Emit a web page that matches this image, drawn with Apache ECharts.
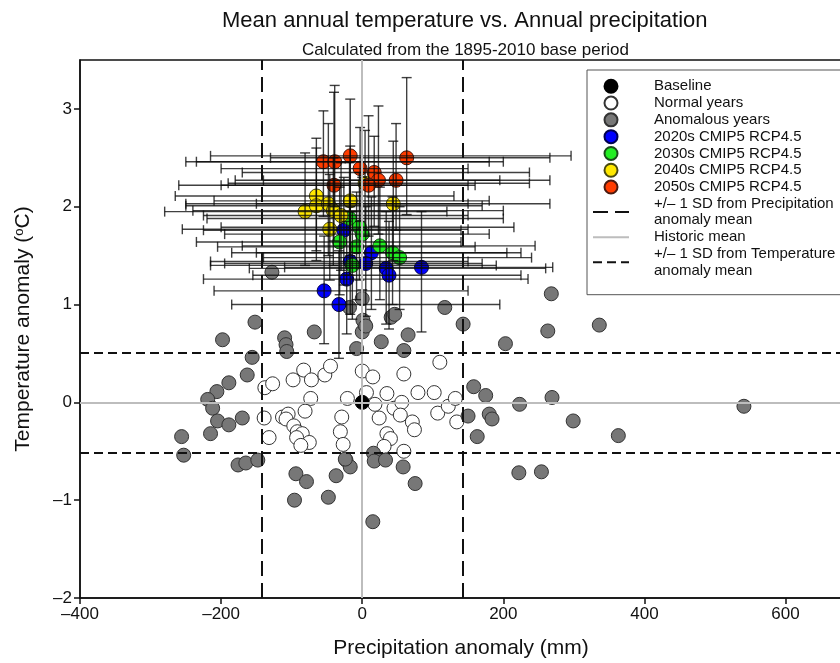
<!DOCTYPE html>
<html>
<head>
<meta charset="utf-8">
<script src="https://cdn.jsdelivr.net/npm/echarts@6/dist/echarts.min.js"></script>
<style>
  html, body { margin: 0; padding: 0; background: #fff; }
  #chart { width: 840px; height: 663px; }
</style>
</head>
<body>
<div id="chart"></div>
<script>
// historic years: [precip anomaly (mm), temp anomaly (°C)]
const baseline = [[0, 0]];

const normalYears = [
  [-138, 0.15], [-127, 0.19], [-139, -0.16], [-132, -0.36], [-98, 0.23], [-83, 0.33],
  [-72, 0.23], [-73, 0.04], [-81, -0.09], [-53, 0.28], [-45, 0.37], [-113, -0.15],
  [-105, -0.12], [-108, -0.17], [-97, -0.24], [-92, -0.30], [-85, -0.32], [-93, -0.36],
  [-75, -0.41], [-87, -0.44], [-29, -0.15], [-31, -0.30], [-27, -0.43], [-21, 0.04],
  [110, 0.41], [0, 0.32], [15, 0.26], [59, 0.29], [6, 0.10], [35, 0.09], [18, -0.02],
  [24, -0.16], [45, -0.06], [56, 0.00], [54, -0.13], [71, -0.20], [74, -0.28], [79, 0.10],
  [102, 0.10], [107, -0.11], [122, -0.04], [132, 0.04], [134, -0.20], [35, -0.32],
  [40, -0.37], [31, -0.45], [59, -0.50]
];

const anomalousYears = [
  [-152, 0.82], [-198, 0.64], [-110, 0.66], [-108, 0.59], [-107, 0.52], [-68, 0.72],
  [-156, 0.46], [-163, 0.28], [-189, 0.20], [-206, 0.11], [-219, 0.03], [-212, -0.06],
  [-205, -0.19], [-189, -0.23], [-170, -0.16], [-215, -0.32], [-256, -0.35], [-253, -0.54],
  [-176, -0.64], [-165, -0.62], [-148, -0.59], [-94, -0.73], [-79, -0.81], [-96, -1.00],
  [-37, -0.75], [-48, -0.97], [-23, -0.59], [-17, -0.66], [-8, 0.55], [-18, 0.97],
  [117, 0.97], [143, 0.80], [203, 0.60], [263, 0.73], [336, 0.79], [0, 0.72], [4, 0.79],
  [27, 0.62], [65, 0.69], [59, 0.53], [41, 0.87], [46, 0.90], [158, 0.16], [175, 0.07],
  [150, -0.14], [180, -0.12], [184, -0.17], [223, -0.02], [269, 0.05], [299, -0.19],
  [363, -0.34], [163, -0.35], [222, -0.72], [254, -0.71], [16, -0.52], [17, -0.60],
  [33, -0.59], [-24, -0.58], [58, -0.66], [75, -0.83], [15, -1.22], [-128, 1.33],
  [0, 1.06], [1, 0.84], [5, 0.78], [268, 1.11], [541, -0.04]
];

// projections: [precip, temp, precipLow, precipHigh, tempLow, tempHigh]
const proj2020s = [
  [-26, 1.76, -225, 140, 1.20, 2.30], [13, 1.53, -185, 205, 0.95, 2.10],
  [5, 1.42, -195, 170, 0.88, 2.00], [-17, 1.44, -215, 150, 0.90, 2.00],
  [34, 1.37, -160, 260, 0.80, 1.95], [38, 1.30, -155, 225, 0.75, 1.85],
  [84, 1.38, -110, 270, 0.72, 1.95], [-22, 1.26, -225, 235, 0.70, 1.85],
  [-54, 1.14, -210, 150, 0.60, 1.70], [-33, 1.00, -185, 195, 0.45, 1.55]
];
const proj2030s = [
  [-18, 1.88, -220, 200, 1.30, 2.45], [-4, 1.79, -200, 215, 1.25, 2.35],
  [0, 1.72, -195, 180, 1.15, 2.30], [-32, 1.64, -235, 140, 1.10, 2.20],
  [-8, 1.59, -205, 160, 1.05, 2.15], [25, 1.60, -170, 245, 1.05, 2.20],
  [43, 1.53, -150, 225, 1.00, 2.10], [53, 1.48, -140, 240, 0.95, 2.00],
  [-14, 1.40, -215, 190, 0.85, 1.95]
];
const proj2040s = [
  [-65, 2.11, -265, 130, 1.55, 2.70], [-81, 1.95, -280, 120, 1.40, 2.55],
  [-65, 2.01, -250, 170, 1.45, 2.60], [-48, 2.03, -250, 150, 1.50, 2.85],
  [-41, 1.96, -240, 200, 1.40, 2.50], [-30, 1.91, -225, 150, 1.35, 2.45],
  [-17, 2.06, -210, 180, 1.50, 2.62], [44, 2.03, -150, 266, 1.45, 2.67],
  [-46, 1.77, -255, 150, 1.25, 2.33], [4, 2.24, -190, 237, 1.70, 2.78]
];
const proj2050s = [
  [-55, 2.46, -250, 180, 1.90, 2.98], [-39, 2.46, -235, 200, 2.00, 3.24],
  [-17, 2.52, -215, 296, 1.95, 3.10], [-3, 2.39, -200, 150, 1.85, 2.81],
  [17, 2.35, -170, 237, 1.80, 2.72], [63, 2.50, -130, 266, 1.92, 3.32],
  [23, 2.27, -180, 195, 1.72, 3.03], [9, 2.22, -200, 160, 1.70, 2.93],
  [48, 2.27, -140, 266, 1.76, 2.85], [-40, 2.22, -260, 150, 1.65, 3.17]
];

const precipSD = 143;
const tempSD = 0.51;

const FONT = '"Liberation Sans", Arial, sans-serif';
const precipSDName = '+/\u2013 1 SD from Precipitation\nanomaly mean';
const tempSDName = '+/\u2013 1 SD from Temperature\nanomaly mean';

function errorBars(params, api) {
  const x = api.value(0), y = api.value(1);
  const l = api.coord([api.value(2), y]);
  const r = api.coord([api.value(3), y]);
  const b = api.coord([x, api.value(4)]);
  const t = api.coord([x, api.value(5)]);
  const cap = 5;
  const style = { stroke: 'rgba(10,10,10,0.78)', lineWidth: 1.4, fill: null };
  const seg = (x1, y1, x2, y2) => ({ type: 'line', shape: { x1, y1, x2, y2 }, style });
  return {
    type: 'group',
    children: [
      seg(l[0], l[1], r[0], r[1]),
      seg(l[0], l[1] - cap, l[0], l[1] + cap),
      seg(r[0], r[1] - cap, r[0], r[1] + cap),
      seg(b[0], b[1], t[0], t[1]),
      seg(b[0] - cap, b[1], b[0] + cap, b[1]),
      seg(t[0] - cap, t[1], t[0] + cap, t[1])
    ]
  };
}

function scatter(name, data, color, border) {
  return {
    name: name,
    type: 'scatter',
    data: data,
    symbolSize: 14,
    z: 3,
    itemStyle: { color: color, borderColor: border, borderWidth: 1, opacity: 1 },
    encode: { x: 0, y: 1 }
  };
}

function bars(data) {
  return {
    type: 'custom',
    data: data,
    z: 4,
    silent: true,
    renderItem: errorBars,
    encode: { x: [0, 2, 3], y: [1, 4, 5] }
  };
}

const minus = v => String(v).replace('-', '\u2013');
const noSymbol = { opacity: 0 };

let chartDom = document.getElementById('chart');
let myChart = echarts.init(chartDom);
let option = {
  animation: false,
  backgroundColor: '#fff',
  textStyle: { fontFamily: FONT },
  title: [
    {
      text: 'Mean annual temperature vs. Annual precipitation',
      left: 217,
      top: 5,
      textStyle: { fontSize: 22, fontWeight: 'normal', color: '#111', fontFamily: FONT }
    },
    {
      text: 'Calculated from the 1895-2010 base period',
      left: 297,
      top: 37,
      textStyle: { fontSize: 17, fontWeight: 'normal', color: '#111', fontFamily: FONT }
    }
  ],
  grid: {
    left: 80,
    right: -2,
    top: 60,
    bottom: 65,
    outerBoundsMode: 'none',
    show: true,
    borderColor: '#111',
    borderWidth: 1.5
  },
  legend: {
    orient: 'vertical',
    left: 587,
    top: 70,
    padding: [8, 30, 16, 5],
    itemWidth: 36,
    itemHeight: 13,
    itemGap: 0.3,
    backgroundColor: '#fff',
    borderColor: '#555',
    borderWidth: 1,
    textStyle: { fontSize: 15, color: '#111', lineHeight: 16.5, fontFamily: FONT, padding: [0, 0, 0, 20] },
    data: [
      'Baseline', 'Normal years', 'Anomalous years',
      '2020s CMIP5 RCP4.5', '2030s CMIP5 RCP4.5', '2040s CMIP5 RCP4.5', '2050s CMIP5 RCP4.5',
      { name: precipSDName, itemStyle: noSymbol },
      { name: 'Historic mean', itemStyle: noSymbol },
      { name: tempSDName, itemStyle: noSymbol }
    ]
  },
  xAxis: {
    type: 'value',
    min: -400,
    max: 680,
    interval: 200,
    name: 'Precipitation anomaly (mm)',
    nameLocation: 'middle',
    nameGap: 40,
    nameTextStyle: { fontSize: 21, color: '#111', fontFamily: FONT },
    splitLine: { show: false },
    axisLine: { show: true, onZero: false, lineStyle: { color: '#111', width: 1.5 } },
    axisTick: { show: true, length: 6, lineStyle: { color: '#111', width: 1.5 } },
    axisLabel: { fontSize: 17, color: '#111', margin: 8, showMaxLabel: false, formatter: minus }
  },
  yAxis: {
    type: 'value',
    min: -2,
    max: 3.5,
    interval: 1,
    name: 'Temperature anomaly ({sup|o}C)',
    nameLocation: 'middle',
    nameGap: 46,
    nameRotate: 90,
    nameTextStyle: {
      fontSize: 21, color: '#111', fontFamily: FONT,
      rich: { sup: { fontSize: 13, verticalAlign: 'top', padding: [0, 0, 8, 0], color: '#111' } }
    },
    splitLine: { show: false },
    axisLine: { show: true, onZero: false, lineStyle: { color: '#111', width: 1.5 } },
    axisTick: { show: true, length: 6, lineStyle: { color: '#111', width: 1.5 } },
    axisLabel: { fontSize: 17, color: '#111', margin: 8, showMaxLabel: false, formatter: minus }
  },
  series: [
    {
      name: 'Historic mean',
      type: 'line',
      data: [],
      symbol: 'none',
      z: 1,
      lineStyle: { color: '#bdbdbd', width: 2 },
      itemStyle: { color: '#bdbdbd' },
      markLine: {
        silent: true,
        symbol: 'none',
        label: { show: false },
        lineStyle: { color: '#bdbdbd', width: 2, type: 'solid' },
        data: [{ xAxis: 0 }, { yAxis: 0 }]
      }
    },
    {
      name: precipSDName,
      type: 'line',
      data: [],
      symbol: 'none',
      z: 2,
      lineStyle: { color: '#111', width: 2, type: [15, 7] },
      itemStyle: { color: '#111' },
      markLine: {
        silent: true,
        symbol: 'none',
        label: { show: false },
        lineStyle: { color: '#111', width: 2, type: [15, 7] },
        data: [{ xAxis: -precipSD }, { xAxis: precipSD }]
      }
    },
    {
      name: tempSDName,
      type: 'line',
      data: [],
      symbol: 'none',
      z: 2,
      lineStyle: { color: '#111', width: 2, type: [9, 5] },
      itemStyle: { color: '#111' },
      markLine: {
        silent: true,
        symbol: 'none',
        label: { show: false },
        lineStyle: { color: '#111', width: 2, type: [9, 5] },
        data: [{ yAxis: -tempSD }, { yAxis: tempSD }]
      }
    },
    scatter('Normal years', normalYears, '#ffffff', '#333'),
    scatter('Anomalous years', anomalousYears, '#777777', '#333'),
    scatter('Baseline', baseline, '#000000', '#000'),
    scatter('2020s CMIP5 RCP4.5', proj2020s, '#0000ff', '#000050'),
    scatter('2030s CMIP5 RCP4.5', proj2030s, '#22ee22', '#1a4a1a'),
    scatter('2040s CMIP5 RCP4.5', proj2040s, '#ffe800', '#4a4a10'),
    scatter('2050s CMIP5 RCP4.5', proj2050s, '#ff3c00', '#4a1a10'),
    bars(proj2020s),
    bars(proj2030s),
    bars(proj2040s),
    bars(proj2050s)
  ]
};

option && myChart.setOption(option);
</script>
</body>
</html>
